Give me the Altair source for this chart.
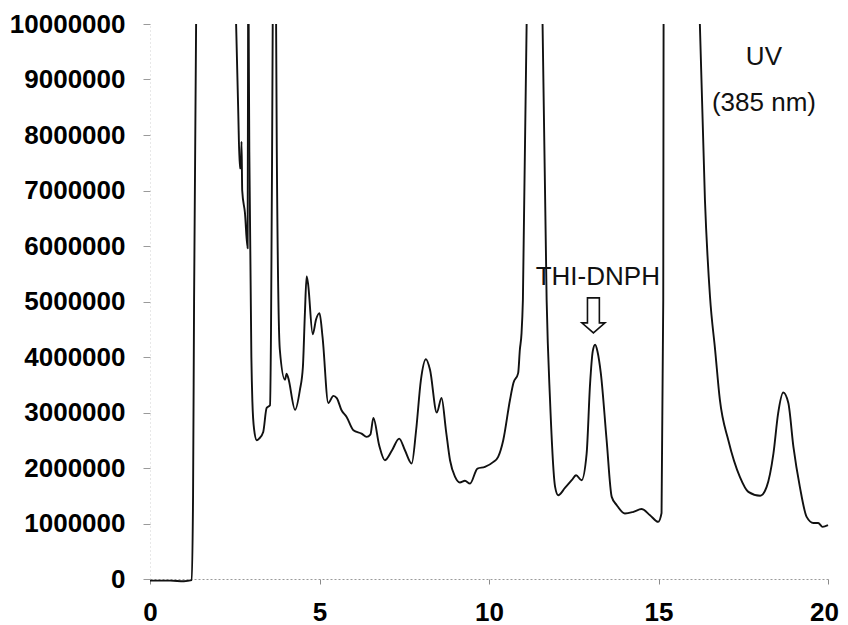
import altair as alt
import pandas as pd

# Retention time (min) and UV signal.
# The trace leaves the top of the plot at several peaks, so it is stored as
# separate visible pieces (each ends/starts where the line meets 10,000,000).
seg1_t = [0.0, 0.6, 1.0, 1.23, 1.27, 1.30, 1.36]
seg1_v = [-0.03e6, -0.03e6, -0.04e6, -0.02e6, 1.5e6, 5.0e6, 10.0e6]

seg2_t = [2.54, 2.60, 2.65, 2.68, 2.70, 2.72, 2.80, 2.88, 2.895]
seg2_v = [10.0e6, 8.5e6, 7.4e6, 7.4e6, 7.88e6, 7.0e6, 6.6e6, 5.96e6, 10.0e6]

seg3_t = [2.91, 2.93, 2.99, 3.02, 3.07, 3.15, 3.22, 3.34, 3.44, 3.54, 3.57, 3.60, 3.62]
seg3_v = [10.0e6, 7.7e6, 4.0e6, 3.2e6, 2.7e6, 2.5e6, 2.53e6, 2.65e6, 3.08e6, 3.13e6,
          4.5e6, 7.5e6, 10.0e6]

seg4_t = [3.72, 3.74, 3.83, 3.98, 4.03, 4.08, 4.28, 4.42, 4.51, 4.57, 4.62, 4.66, 4.80,
          4.90, 5.00, 5.09, 5.26, 5.41, 5.51, 5.65, 5.80, 6.00, 6.24, 6.39, 6.50, 6.59,
          6.76, 6.93, 7.14, 7.35, 7.52, 7.72, 7.85, 7.99, 8.14, 8.26, 8.46, 8.60, 8.73,
          8.85, 9.00, 9.14, 9.29, 9.44, 9.66, 9.88, 10.13, 10.27, 10.42, 10.62, 10.72,
          10.86, 10.91, 10.96, 11.00, 11.11]
seg4_v = [10.0e6, 7.73e6, 4.13e6, 3.59e6, 3.7e6, 3.62e6, 3.05e6, 3.4e6, 3.82e6, 4.8e6,
          5.45e6, 5.33e6, 4.41e6, 4.68e6, 4.79e6, 4.36e6, 3.17e6, 3.3e6, 3.26e6, 3.04e6,
          2.92e6, 2.68e6, 2.62e6, 2.56e6, 2.6e6, 2.9e6, 2.41e6, 2.14e6, 2.32e6, 2.53e6,
          2.32e6, 2.08e6, 2.68e6, 3.58e6, 3.96e6, 3.77e6, 3.0e6, 3.26e6, 2.68e6, 2.14e6,
          1.84e6, 1.74e6, 1.77e6, 1.72e6, 1.99e6, 2.02e6, 2.11e6, 2.2e6, 2.5e6, 3.23e6,
          3.53e6, 3.71e6, 4.13e6, 4.43e6, 5.03e6, 10.0e6]

seg5_t = [11.58, 11.70, 11.80, 11.95, 12.04, 12.24, 12.44, 12.57, 12.73, 12.88, 12.98,
          13.06, 13.13, 13.20, 13.30, 13.47, 13.62, 13.77, 14.01, 14.26, 14.50, 14.75,
          14.99, 15.09, 15.14, 15.15]
seg5_v = [10.0e6, 5.03e6, 3.23e6, 1.66e6, 1.51e6, 1.64e6, 1.78e6, 1.87e6, 1.78e6, 2.26e6,
          3.5e6, 4.1e6, 4.22e6, 4.1e6, 3.7e6, 2.5e6, 1.48e6, 1.33e6, 1.18e6, 1.21e6,
          1.26e6, 1.15e6, 1.03e6, 1.19e6, 5.03e6, 10.0e6]

seg6_t = [16.22, 16.37, 16.52, 16.67, 16.81, 17.06, 17.40, 17.65, 18.00, 18.19, 18.39,
          18.53, 18.68, 18.83, 18.98, 19.17, 19.37, 19.57, 19.71, 19.84, 20.0]
seg6_v = [10.0e6, 6.83e6, 5.08e6, 4.13e6, 3.23e6, 2.5e6, 1.84e6, 1.57e6, 1.5e6, 1.66e6,
          2.26e6, 2.99e6, 3.36e6, 3.17e6, 2.38e6, 1.66e6, 1.12e6, 1.01e6, 1.01e6, 0.94e6,
          0.97e6]

x_ticks = [0, 5, 10, 15, 20]
y_ticks = [0, 1000000, 2000000, 3000000, 4000000, 5000000,
           6000000, 7000000, 8000000, 9000000, 10000000]

# annotations
ann_text = ["THI-DNPH", "UV", "(385 nm)"]
ann_t = [13.21, 18.11, 18.11]
ann_v = [5.44e6, 9.41e6, 8.58e6]
arrow_t = [13.08]
arrow_v = [4.75e6]

segments = [(seg1_t, seg1_v), (seg2_t, seg2_v), (seg3_t, seg3_v),
            (seg4_t, seg4_v), (seg5_t, seg5_v), (seg6_t, seg6_v)]
rows = []
i = 0
for k, (ts, vs) in enumerate(segments):
    for t, v in zip(ts, vs):
        rows.append({"t": t, "signal": v, "seg": k, "i": i})
        i += 1
df = pd.DataFrame(rows)
ann = pd.DataFrame({"label": ann_text, "t": ann_t, "v": ann_v})
arr = pd.DataFrame({"t": arrow_t, "v": arrow_v})

FONT = "Liberation Sans"

xscale = alt.Scale(domain=[0, 20], nice=False, zero=False)
yscale = alt.Scale(domain=[0, 10000000], nice=False)

line = alt.Chart(df).mark_line(color="#111111", strokeWidth=1.9, strokeJoin="round",
                               interpolate="monotone").encode(
    x=alt.X("t:Q", scale=xscale,
            axis=alt.Axis(values=x_ticks, title=None, grid=False, format="d",
                          domainColor="#9a9a9a", domainDash=[2, 2], domainWidth=1,
                          tickColor="#8a8a8a", tickSize=5, tickWidth=1,
                          labelFont=FONT, labelFontSize=26, labelFontWeight="bold",
                          labelColor="#000000", labelPadding=15, labelFlush=False,
                          labelOffset={"expr": "datum.value == 20 ? -4 : 0"})),
    y=alt.Y("signal:Q", scale=yscale,
            axis=alt.Axis(values=y_ticks, title=None, grid=False, format="d",
                          domainColor="#d0d0d0", domainDash=[1, 3], domainWidth=1,
                          tickColor="#9a9a9a", tickSize=7, tickWidth=1,
                          labelFont=FONT, labelFontSize=26, labelFontWeight="bold",
                          labelColor="#000000", labelPadding=18, labelFlush=False)),
    detail="seg:N",
    order="i:Q",
)

text = alt.Chart(ann).mark_text(font=FONT, fontSize=26, align="center",
                                baseline="middle", color="#111111").encode(
    x=alt.X("t:Q", scale=xscale),
    y=alt.Y("v:Q", scale=yscale),
    text="label:N",
)

arrow_shape = "M-0.34,-1 L0.34,-1 L0.34,0.43 L0.66,0.43 L0,1 L-0.66,0.43 L-0.34,0.43 Z"
arrow = alt.Chart(arr).mark_point(shape=arrow_shape, filled=False, size=1225,
                                  stroke="#111111", strokeWidth=1.6, opacity=1).encode(
    x=alt.X("t:Q", scale=xscale),
    y=alt.Y("v:Q", scale=yscale),
)

chart = alt.layer(line, text, arrow).properties(
    width=678, height=555,
    autosize=alt.AutoSizeParams(type="none"),
    padding={"left": 142, "top": 16, "right": 12, "bottom": 46},
    background="white",
).configure_view(stroke=None)

chart.save("out.html", embed_options={"renderer": "svg", "actions": False})
